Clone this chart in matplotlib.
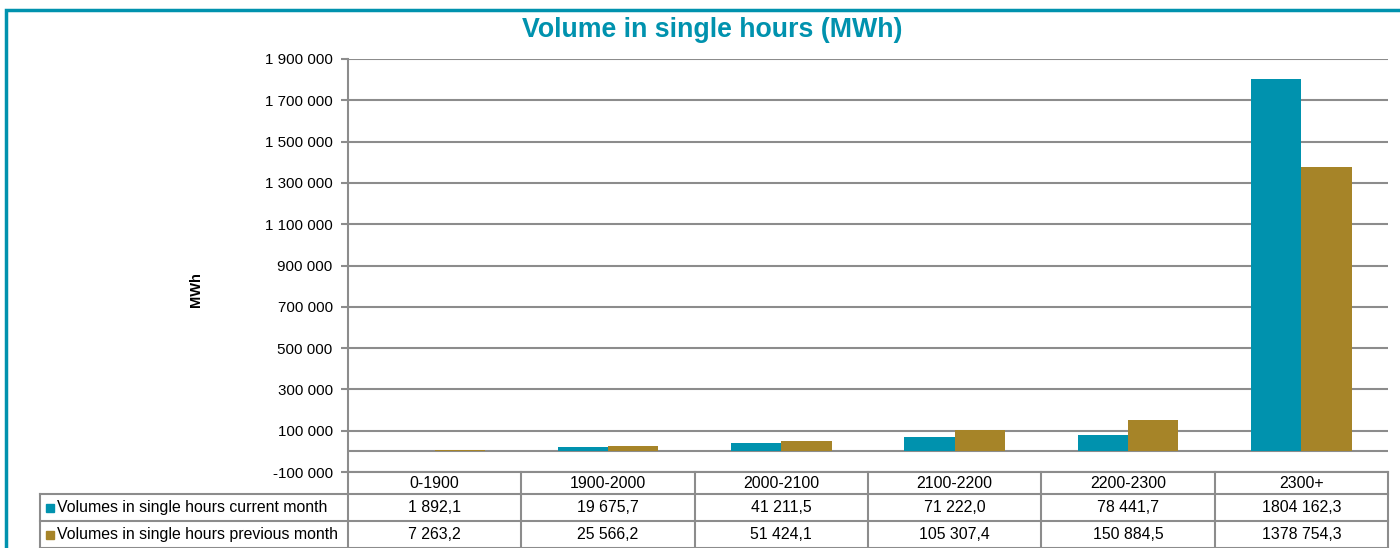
import numpy as np
import matplotlib
matplotlib.use("Agg")
from matplotlib import pyplot as plt
from matplotlib.patches import Rectangle
from matplotlib.lines import Line2D
import matplotlib.transforms as mtransforms

plt.rcParams['font.family'] = ['Liberation Sans', 'DejaVu Sans']

categories = ["0-1900", "1900-2000", "2000-2100", "2100-2200", "2200-2300", "2300+"]
current_month = [1892.1, 19675.7, 41211.5, 71222.0, 78441.7, 1804162.3]
previous_month = [7263.2, 25566.2, 51424.1, 105307.4, 150884.5, 1378754.3]
current_labels = ["1 892,1", "19 675,7", "41 211,5", "71 222,0", "78 441,7", "1804 162,3"]
previous_labels = ["7 263,2", "25 566,2", "51 424,1", "105 307,4", "150 884,5", "1378 754,3"]
series_names = ["Volumes in single hours current month", "Volumes in single hours previous month"]
yticks = np.arange(-100000, 1900001, 200000)

teal = "#0092AE"
gold = "#A68428"
grid_c = "#8C8C8C"

W, H = 1400, 548
fig = plt.figure(figsize=(14, 5.48), dpi=100)
# figure frame (only left and top edges show)
fig.patches.append(Rectangle((6 / W, -0.05), 1.1, 1.05 - 9.5 / H, transform=fig.transFigure,
                             fill=False, edgecolor=teal, linewidth=2.5))

ax_l, ax_r, ax_t, ax_b = 348, 1388, 59, 472
ax = fig.add_axes([ax_l / W, 1 - ax_b / H, (ax_r - ax_l) / W, (ax_b - ax_t) / H])

x = np.arange(len(categories))
bw = 0.29
ax.bar(x - bw / 2, current_month, bw, color=teal, zorder=3)
ax.bar(x + bw / 2, previous_month, bw, color=gold, zorder=3)

ax.set_xlim(-0.5, len(categories) - 0.5)
ax.set_ylim(yticks[0], yticks[-1])
ax.set_yticks(yticks)
ax.set_yticklabels([f"{v:,}".replace(",", " ") for v in yticks], fontsize=10.9)
ax.set_xticks([])
ax.grid(axis="y", color=grid_c, linewidth=1.5, zorder=0)
ax.axhline(0, color=grid_c, linewidth=1.5, zorder=2)
ax.tick_params(axis="y", length=5, color=grid_c, width=1.5, pad=6)
for s in ["top", "right", "bottom"]:
    ax.spines[s].set_visible(False)
ax.spines["left"].set_color(grid_c)
ax.spines["left"].set_linewidth(1.5)
ax.set_ylabel("MWh", fontsize=10.5, fontweight="bold")
ax.yaxis.set_label_coords((203 - ax_l) / (ax_r - ax_l), (ax_b - 290) / (ax_b - ax_t))

fig.text(712 / W, 1 - 30 / H, "Volume in single hours (MWh)", ha="center", va="center",
         fontsize=19.3, fontweight="bold", color=teal)

# data table below the axes (x in data units, y in pixels -> axes fraction)
tr = mtransforms.blended_transform_factory(ax.transData, ax.transAxes)
ah = ax_b - ax_t
def yp(px):
    return -(px - ax_b) / ah

cat_w = (ax_r - ax_l) / len(categories)
x_left = -0.5 - (ax_l - 40) / cat_w
rows_px = [472, 494, 521, 548]
col_edges = [x_left] + list(np.arange(len(categories) + 1) - 0.5)

def hline(x0, x1, ypx):
    ax.add_line(Line2D([x0, x1], [yp(ypx), yp(ypx)], transform=tr, color=grid_c, lw=1.5, clip_on=False))

def vline(xx, y0, y1):
    ax.add_line(Line2D([xx, xx], [yp(y0), yp(y1)], transform=tr, color=grid_c, lw=1.5, clip_on=False))

hline(-0.5, len(categories) - 0.5, rows_px[0])
for r in rows_px[1:]:
    hline(x_left, len(categories) - 0.5, r)
for xe in col_edges[1:]:
    vline(xe, rows_px[0], rows_px[-1])
vline(x_left, rows_px[1], rows_px[-1])

fs = 11.4
for i, c in enumerate(categories):
    ax.text(i, yp((rows_px[0] + rows_px[1]) / 2), c, transform=tr, ha="center", va="center", fontsize=fs)
for r, (name, labels, col) in enumerate(zip(series_names, [current_labels, previous_labels], [teal, gold])):
    yc = yp((rows_px[r + 1] + rows_px[r + 2]) / 2)
    for i, lab in enumerate(labels):
        ax.text(i, yc, lab, transform=tr, ha="center", va="center", fontsize=fs)
    sq = 8 / ah
    ax.add_patch(Rectangle((x_left + 6 / cat_w, yc - sq / 2), 8 / cat_w, sq, transform=tr,
                           color=col, clip_on=False))
    ax.text(x_left + 17 / cat_w, yc, name, transform=tr, ha="left", va="center", fontsize=fs)

fig.savefig("out.png", dpi=100)
